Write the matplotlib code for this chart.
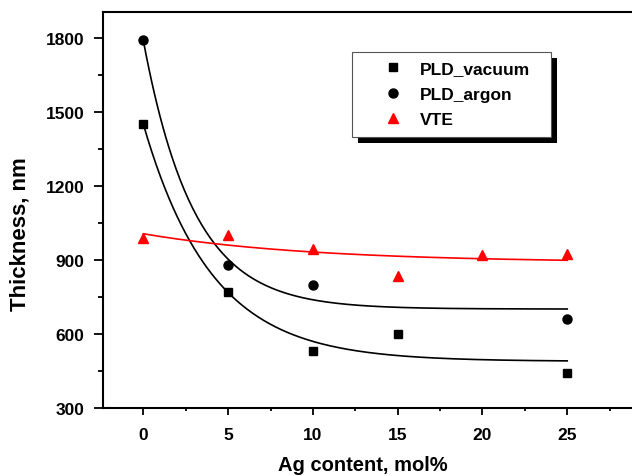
#!/usr/bin/env python3
"""Thickness vs Ag content, with exponential decay fits."""
import numpy as np
import matplotlib.pyplot as plt
from matplotlib.patches import Rectangle
from matplotlib.ticker import MultipleLocator

# data
vac_x = [0, 5, 10, 15, 25]
vac_y = [1450, 770, 530, 600, 440]
arg_x = [0, 5, 10, 25]
arg_y = [1790, 880, 800, 660]
vte_x = [0, 5, 10, 15, 20, 25]
vte_y = [990, 1000, 945, 835, 920, 925]


def exp_fit(x, y, taus=np.linspace(0.5, 60, 2000)):
    """y = y0 + A*exp(-x/t), least squares with a grid over t."""
    x = np.asarray(x, float)
    y = np.asarray(y, float)
    best = None
    for t in taus:
        M = np.column_stack([np.ones_like(x), np.exp(-x / t)])
        coef, *_ = np.linalg.lstsq(M, y, rcond=None)
        err = np.sum((M @ coef - y) ** 2)
        if best is None or err < best[0]:
            best = (err, coef[0], coef[1], t)
    _, y0, a, t = best
    return lambda xx: y0 + a * np.exp(-xx / t)


plt.rcParams["font.family"] = ["Liberation Sans", "DejaVu Sans"]
plt.rcParams["font.weight"] = "bold"

fig = plt.figure(figsize=(6.32, 4.77), dpi=100)
W, H = 632, 477
AX_L, AX_R, AX_T, AX_B = 103, 652, 13, 409   # pixels; right side runs off the image
ax = fig.add_axes([AX_L / W, (H - AX_B) / H, (AX_R - AX_L) / W, (AX_B - AX_T) / H])
aw, ah = AX_R - AX_L, AX_B - AX_T

xs = np.linspace(0, 25, 300)
ax.plot(xs, exp_fit(vac_x, vac_y)(xs), color="black", lw=1.2, zorder=2)
ax.plot(xs, exp_fit(arg_x, arg_y)(xs), color="black", lw=1.2, zorder=2)
ax.plot(xs, exp_fit(vte_x, vte_y)(xs), color="red", lw=1.2, zorder=2)

ax.plot(vac_x, vac_y, "s", color="black", ms=6, ls="none", label="PLD_vacuum", zorder=3)
ax.plot(arg_x, arg_y, "o", color="black", ms=6.5, ls="none", label="PLD_argon", zorder=3)
ax.plot(vte_x, vte_y, "^", color="red", ms=7.5, ls="none", label="VTE", zorder=3)

ax.set_xlim(-2.38, 30)
ax.set_ylim(300, 1904)
ax.set_xticks([0, 5, 10, 15, 20, 25])
ax.set_yticks([300, 600, 900, 1200, 1500, 1800])
ax.xaxis.set_minor_locator(MultipleLocator(2.5))
ax.yaxis.set_minor_locator(MultipleLocator(150))
ax.tick_params(which="both", direction="out", width=1.3, labelsize=12.5)
ax.tick_params(axis="x", which="major", length=5, pad=8.5)
ax.tick_params(axis="x", which="minor", length=2.5)
ax.tick_params(axis="y", which="major", length=6.5, pad=7)
ax.tick_params(axis="y", which="minor", length=3.5)
for s in ax.spines.values():
    s.set_linewidth(1.5)
for lab in ax.get_xticklabels() + ax.get_yticklabels():
    lab.set_fontweight("bold")

ax.set_xlabel("Ag content, mol%", fontsize=14.5, fontweight="bold", va="top")
ax.xaxis.set_label_coords(0.474, -0.119)
ax.set_ylabel("Thickness, nm", fontsize=16, fontweight="bold", va="center")
ax.yaxis.set_label_coords(-0.151, 0.442)

# legend box with a black drop shadow (pixel positions from the reference)
box_x0, box_y0, box_x1, box_y1 = 352, 53, 551, 138
bx = (box_x0 - AX_L) / aw
by = (AX_B - box_y1) / ah
bw = (box_x1 - box_x0) / aw
bh = (box_y1 - box_y0) / ah
ax.add_patch(Rectangle((bx + 6 / aw, by - 6 / ah), bw, bh, transform=ax.transAxes,
                       facecolor="black", edgecolor="none", zorder=5, clip_on=False))
ax.add_patch(Rectangle((bx, by), bw, bh, transform=ax.transAxes, facecolor="white",
                       edgecolor="#555555", lw=0.8, zorder=5.1, clip_on=False))

leg = ax.legend(loc="upper left", bbox_to_anchor=((366 - AX_L) / aw, (AX_B - 62) / ah),
                borderaxespad=0, borderpad=0, frameon=False, fontsize=12.5,
                handlelength=3.1, handletextpad=0.0, labelspacing=0.6)
leg.set_zorder(6)

fig.savefig("out.png", dpi=100)
